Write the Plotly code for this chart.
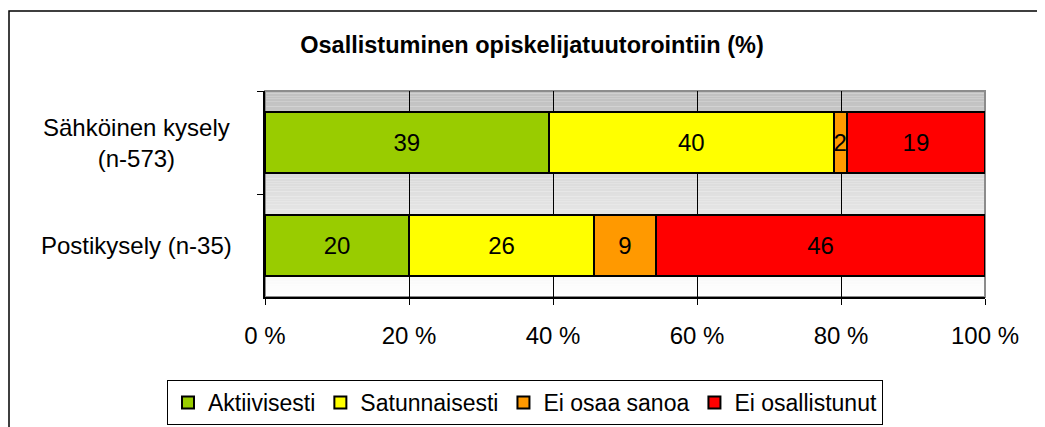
import plotly.graph_objects as go

# ---- data ----
categories = ["Sähköinen kysely (n-573)", "Postikysely (n-35)"]
category_labels = ["Sähköinen kysely<br>(n-573)", "Postikysely (n-35)"]
series_names = ["Aktiivisesti", "Satunnaisesti", "Ei osaa sanoa", "Ei osallistunut"]
aktiivisesti = [39.4, 20.0]
satunnaisesti = [39.6, 25.7]
ei_osaa_sanoa = [1.8, 8.6]
ei_osallistunut = [19.2, 45.7]
x_ticks = [0, 20, 40, 60, 80, 100]
x_tick_labels = ["0 %", "20 %", "40 %", "60 %", "80 %", "100 %"]
title_text = "Osallistuminen opiskelijatuutorointiin (%)"

series_values = [aktiivisesti, satunnaisesti, ei_osaa_sanoa, ei_osallistunut]
colors = ["#99cc00", "#ffff00", "#ff9900", "#ff0000"]

# page offset caused by default body margin
OFF = 8
W, H = 1045 - OFF, 427 - OFF
# plot area in page pixels: x 265..985, y 91..297
PL, PR, PT, PB = 265, 985, 91, 297
L = PL - OFF
T = PT - OFF
R = W - (PR - OFF)
B = H - (PB - OFF)
pw, ph = PR - PL, PB - PT

def px_x(px):
    return (px - PL) / pw

def px_y(py):
    return (PB - py) / ph

def cx(px):
    return (px - OFF) / W

def cy(py):
    return 1 - (py - OFF) / H

FONT = "Liberation Sans, Arial, sans-serif"
FS = 24

fig = go.Figure()
for name, vals, col in zip(series_names, series_values, colors):
    fig.add_trace(go.Bar(
        y=categories, x=vals, name=name, orientation="h",
        marker=dict(color=col, line=dict(color="#000000", width=2)),
        text=vals, texttemplate="%{x:.0f}", textposition="inside",
        insidetextanchor="middle", textangle=0,
        textfont=dict(family=FONT, size=FS, color="#000000"),
        hoverinfo="skip",
    ))

shapes = []
# gradient plot background (gray top -> white bottom)
n = 80
for i in range(n):
    t = i / (n - 1)
    v = int(round(192 + (255 - 192) * t))
    shapes.append(dict(type="rect", xref="paper", yref="paper",
                       x0=0, x1=1, y0=1 - (i + 1) / n, y1=1 - i / n,
                       fillcolor=f"rgb({v},{v},{v})", line=dict(width=0),
                       layer="below"))
# plot area border (gray)
shapes.append(dict(type="rect", xref="paper", yref="paper", x0=0, x1=1, y0=0, y1=1,
                   line=dict(color="#8c8c8c", width=2), layer="below"))
# outer chart border
shapes.append(dict(type="rect", xref="paper", yref="paper",
                   x0=px_x(9), x1=px_x(1100), y0=px_y(500), y1=px_y(11),
                   line=dict(color="#000000", width=1.5), layer="below"))

annotations = []
for cat, lab in zip(categories, category_labels):
    annotations.append(dict(text=lab, xref="paper", yref="y", x=px_x(136), y=cat,
                            xanchor="center", yanchor="middle", align="center",
                            showarrow=False,
                            font=dict(family=FONT, size=FS, color="#000000")))

fig.update_layout(
    barmode="stack",
    bargap=0.4,
    width=W, height=H,
    margin=dict(l=L, r=R, t=T, b=B, pad=0, autoexpand=False),
    paper_bgcolor="#ffffff",
    plot_bgcolor="rgba(0,0,0,0)",
    font=dict(family=FONT, size=FS, color="#000000"),
    title=dict(text="<b>" + title_text + "</b>", x=cx(532), xanchor="center",
               y=cy(45), yanchor="middle",
               font=dict(family=FONT, size=23.5, color="#000000")),
    uniformtext=dict(mode="show", minsize=FS),
    xaxis=dict(range=[0, 100], tickmode="array", tickvals=x_ticks, ticktext=x_tick_labels,
               showgrid=True, gridcolor="#000000", gridwidth=1,
               zeroline=False, showline=True, linecolor="#000000", linewidth=1.5,
               ticks="outside", ticklen=6, tickcolor="#000000", tickwidth=1,
               ticklabelstandoff=10,
               tickfont=dict(family=FONT, size=FS, color="#000000"), fixedrange=True),
    yaxis=dict(categoryorder="array", categoryarray=categories, range=[1.5, -0.5],
               showticklabels=False, tickson="boundaries",
               ticks="outside", ticklen=6, tickcolor="#000000", tickwidth=1,
               showline=True, linecolor="#000000", linewidth=1.5,
               showgrid=False, zeroline=False, fixedrange=True),
    legend=dict(orientation="h",
                x=px_x(167), xanchor="left", y=px_y(380), yanchor="top",
                bordercolor="#000000", borderwidth=1, bgcolor="#ffffff",
                font=dict(family=FONT, size=23, color="#000000"),
                traceorder="normal", itemclick=False, itemdoubleclick=False,
                itemwidth=30, tracegroupgap=0),
    shapes=shapes,
    annotations=annotations,
    showlegend=True,
)

fig.write_html("out.html", config={"displayModeBar": False})
